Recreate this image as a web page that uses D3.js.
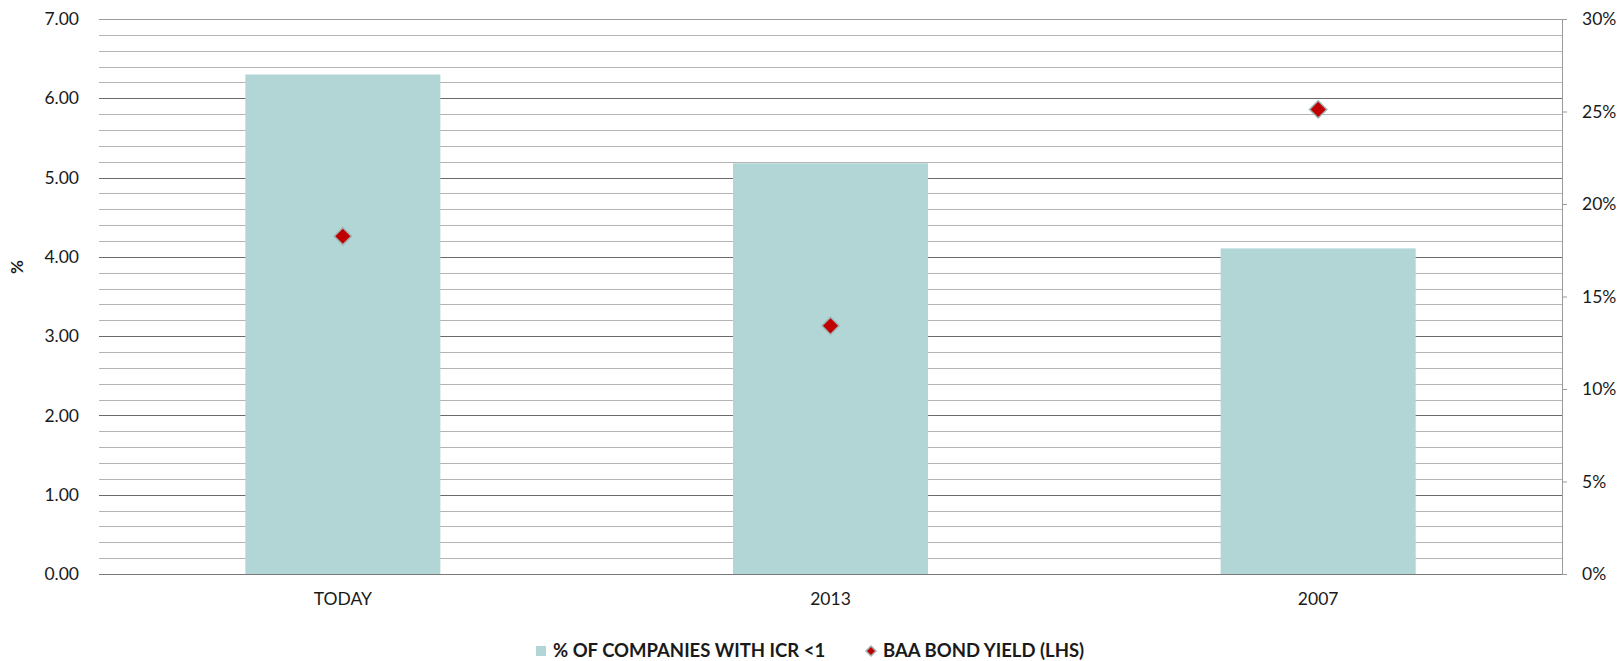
<!DOCTYPE html>
<html>
<head>
<meta charset="utf-8">
<script src="https://cdn.jsdelivr.net/npm/d3@7"></script>
<style>
  body { margin: 0; background: #fff; }
  text { font-family: Lato, "Open Sans", sans-serif; fill: #1a1a1a; }
</style>
</head>
<body>
<script>
const width = 1623, height = 661;

// data
const categories = ['TODAY', '2013', '2007'];
const icrShare = [27.0, 22.2, 17.6];     // % of companies with ICR < 1 (right axis)
const baaYield = [4.26, 3.13, 5.86];     // BAA bond yield (left axis)
const leftTicks = [0, 1, 2, 3, 4, 5, 6, 7];
const rightTicks = [0, 5, 10, 15, 20, 25, 30];
const seriesNames = ['% OF COMPANIES WITH ICR <1', 'BAA BOND YIELD (LHS)'];

const margin = { top: 19, right: 61, bottom: 87, left: 99 };
const x0 = margin.left, x1 = width - margin.right;
const y0 = height - margin.bottom, y1 = margin.top;

const svg = d3.select('body').append('svg')
  .attr('width', width)
  .attr('height', height);

const x = d3.scaleBand()
  .domain(categories)
  .range([x0, x1])
  .paddingInner(0.6)
  .paddingOuter(0.3);

const yLeft = d3.scaleLinear().domain([0, 7]).range([y0, y1]);
const yRight = d3.scaleLinear().domain([0, 30]).range([y0, y1]);

// gridlines: minor every 0.2, major every 1
const minor = d3.range(0, 35).map(i => i * 0.2).filter(v => Math.abs(v - Math.round(v)) > 1e-6);
svg.append('g')
  .selectAll('line')
  .data(minor)
  .join('line')
  .attr('x1', x0).attr('x2', x1)
  .attr('y1', d => Math.round(yLeft(d)) + 0.5)
  .attr('y2', d => Math.round(yLeft(d)) + 0.5)
  .attr('stroke', '#b4b4b4');

svg.append('g')
  .selectAll('line')
  .data(leftTicks.filter(d => d > 0))
  .join('line')
  .attr('x1', x0).attr('x2', x1)
  .attr('y1', d => Math.round(yLeft(d)) + 0.5)
  .attr('y2', d => Math.round(yLeft(d)) + 0.5)
  .attr('stroke', d => d === 7 ? '#9a9a9a' : '#6a6a6a');

// bars
svg.append('g')
  .selectAll('rect')
  .data(categories)
  .join('rect')
  .attr('x', d => x(d))
  .attr('width', x.bandwidth())
  .attr('y', (d, i) => yRight(icrShare[i]))
  .attr('height', (d, i) => y0 - yRight(icrShare[i]))
  .attr('fill', '#b2d6d6');

// baseline
svg.append('line')
  .attr('x1', x0).attr('x2', x1)
  .attr('y1', Math.round(y0) + 0.5).attr('y2', Math.round(y0) + 0.5)
  .attr('stroke', '#7a7a7a');

// diamonds
const diamond = d3.symbol().type(d3.symbolSquare).size(150);
svg.append('g')
  .selectAll('path')
  .data(categories)
  .join('path')
  .attr('d', diamond)
  .attr('transform', (d, i) => `translate(${x(d) + x.bandwidth() / 2},${yLeft(baaYield[i])}) rotate(45)`)
  .attr('fill', '#c00000')
  .attr('stroke', '#9fb6b6')
  .attr('stroke-width', 1.5);

// left axis
const leftAxis = svg.append('g')
  .attr('transform', `translate(${x0},0)`)
  .call(d3.axisLeft(yLeft).tickValues(leftTicks).tickFormat(d3.format('.2f')).tickSize(0).tickPadding(20));
leftAxis.select('.domain').remove();
leftAxis.selectAll('text').attr('font-size', 17.5).attr('fill', '#1a1a1a').attr('font-family', 'Lato');

// right axis
const rightAxis = svg.append('g')
  .attr('transform', `translate(${x1},0)`)
  .call(d3.axisRight(yRight).tickValues(rightTicks).tickFormat(d => d + '%').tickSize(5).tickPadding(15));
rightAxis.select('.domain').attr('stroke', '#9a9a9a').attr('d', `M0.5,${y1}V${y0}`);
rightAxis.selectAll('line').attr('stroke', '#9a9a9a');
rightAxis.selectAll('text').attr('font-size', 17.5).attr('fill', '#1a1a1a').attr('font-family', 'Lato');

// bottom axis labels
const bottomAxis = svg.append('g')
  .attr('transform', `translate(0,${y0})`)
  .call(d3.axisBottom(x).tickSize(0).tickPadding(19));
bottomAxis.select('.domain').remove();
bottomAxis.selectAll('text').attr('font-size', 17.5).attr('fill', '#1a1a1a').attr('font-family', 'Lato');

// left axis title
svg.append('text')
  .attr('transform', `translate(23,267) rotate(-90)`)
  .attr('text-anchor', 'middle')
  .attr('font-size', 17)
  .attr('font-weight', 'bold')
  .text('%');

// legend
const legend = svg.append('g').attr('transform', 'translate(536,651)');
legend.append('rect')
  .attr('x', 0).attr('y', -5).attr('width', 10).attr('height', 10)
  .attr('fill', '#b2d6d6');
legend.append('text')
  .attr('x', 17).attr('y', 0).attr('dy', '0.35em')
  .attr('font-size', 18.5).attr('font-weight', 'bold')
  .text(seriesNames[0]);
legend.append('path')
  .attr('d', d3.symbol().type(d3.symbolSquare).size(50))
  .attr('transform', 'translate(335,0) rotate(45)')
  .attr('fill', '#c00000')
  .attr('stroke', '#9fb6b6')
  .attr('stroke-width', 1.5);
legend.append('text')
  .attr('x', 347).attr('y', 0).attr('dy', '0.35em')
  .attr('font-size', 18.5).attr('font-weight', 'bold')
  .text(seriesNames[1]);
</script>
</body>
</html>
